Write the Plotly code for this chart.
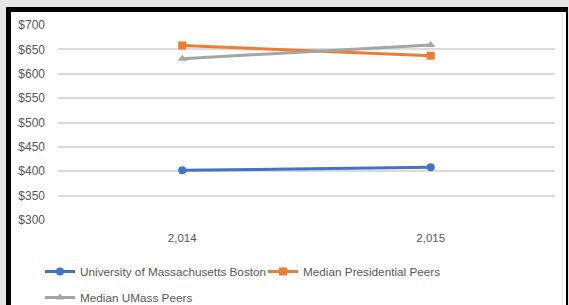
import plotly.graph_objects as go

years = ["2,014", "2,015"]
umb = [402, 408]
presidential = [658, 637]
umass_peers = [631, 659]
series_names = ["University of Massachusetts Boston", "Median Presidential Peers", "Median UMass Peers"]

W, H = 569, 305
L, R, T, B = 58, 14, 25, 85
PW, PH = W - L - R, H - T - B

def px(x):
    return (x - L) / PW

def py(y):
    return (H - B - y) / PH

fig = go.Figure()
fig.add_trace(go.Scatter(x=years, y=umb, name=series_names[0], mode="lines+markers",
                         line=dict(color="#4472C4", width=3),
                         marker=dict(symbol="circle", size=8, color="#4472C4"),
                         legend="legend"))
fig.add_trace(go.Scatter(x=years, y=presidential, name=series_names[1], mode="lines+markers",
                         line=dict(color="#ED7D31", width=3),
                         marker=dict(symbol="square", size=8, color="#ED7D31"),
                         legend="legend"))
fig.add_trace(go.Scatter(x=years, y=umass_peers, name=series_names[2], mode="lines+markers",
                         line=dict(color="#A5A5A5", width=3),
                         marker=dict(symbol="triangle-up", size=8, color="#A5A5A5"),
                         legend="legend2"))

font_color = "#595959"
fam = "Liberation Sans, Arial, sans-serif"

shapes = [
    dict(type="rect", xref="paper", yref="paper", layer="below",
         x0=px(6), x1=px(568), y0=py(H + 5), y1=py(7),
         fillcolor="#000000", line=dict(width=0)),
    dict(type="rect", xref="paper", yref="paper", layer="below",
         x0=px(11), x1=px(566), y0=py(H + 5), y1=py(12),
         fillcolor="#ffffff", line=dict(width=0)),
    dict(type="line", xref="paper", yref="paper", layer="below",
         x0=px(562.5), x1=px(562.5), y0=py(H + 5), y1=py(14),
         line=dict(color="#e4e4e4", width=1)),
]

fig.update_layout(
    width=W, height=H,
    margin=dict(l=L, r=R, t=T, b=B, pad=0, autoexpand=False),
    paper_bgcolor="#e6e6e6",
    plot_bgcolor="rgba(0,0,0,0)",
    font=dict(family=fam, color=font_color, size=12),
    shapes=shapes,
    xaxis=dict(type="category", showgrid=False, zeroline=False, showline=False,
               automargin=False,
               ticks="", tickfont=dict(size=11.5, color=font_color),
               ticklabelstandoff=9, range=[-0.5, 1.5]),
    yaxis=dict(range=[300, 700], dtick=50, tick0=300, tickprefix="$",
               automargin=False,
               showgrid=True, gridcolor="#dedada", gridwidth=1.5,
               zeroline=False, showline=False, ticks="",
               tickfont=dict(size=12, color=font_color),
               ticklabelstandoff=12),
    legend=dict(orientation="h", x=px(40), y=py(257), xanchor="left", yanchor="top",
                font=dict(size=11.75, color=font_color), bgcolor="rgba(0,0,0,0)",
                itemwidth=30, tracegroupgap=0, entrywidth=178, entrywidthmode="pixels"),
    legend2=dict(orientation="h", x=px(40), y=py(283), xanchor="left", yanchor="top",
                 font=dict(size=11.75, color=font_color), bgcolor="rgba(0,0,0,0)",
                 itemwidth=30),
    showlegend=True,
)

fig.write_html(
    "out.html",
    config={"displayModeBar": False},
    post_script="document.body.style.margin='0px';document.body.style.overflow='hidden';document.body.style.background='#e6e6e6';",
)
